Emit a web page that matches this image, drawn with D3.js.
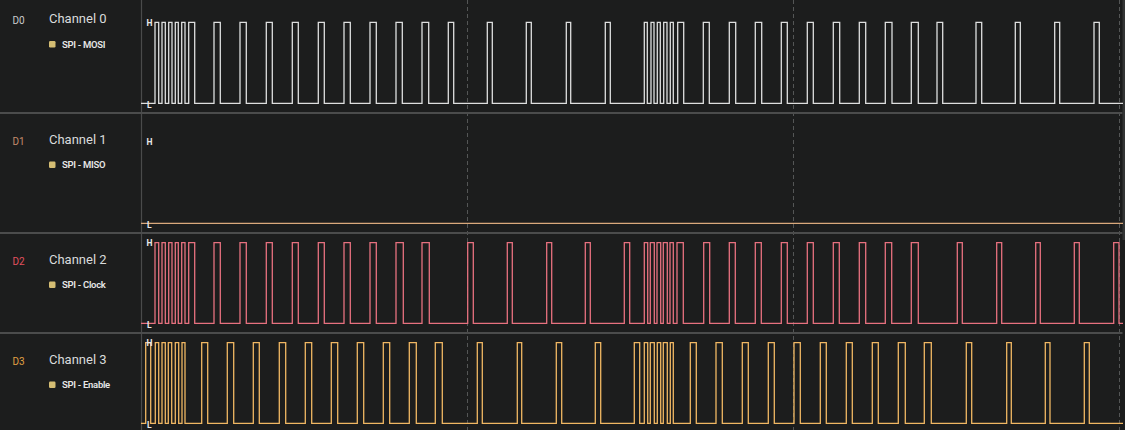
<!DOCTYPE html>
<html>
<head>
<meta charset="utf-8">
<script src="https://cdn.jsdelivr.net/npm/d3@7"></script>
<style>
  html, body { margin: 0; padding: 0; background: #1d1e1e; }
  svg { display: block; }
  text { font-family: Roboto, "Noto Sans", sans-serif; }
</style>
</head>
<body>
<svg id="chart" width="1125" height="430"></svg>
<script>
// channel names and analyzer labels
var probes = ["D0", "D1", "D2", "D3"];
var channels = ["Channel 0", "Channel 1", "Channel 2", "Channel 3"];
var analyzers = ["SPI - MOSI", "SPI - MISO", "SPI - Clock", "SPI - Enable"];

// pulses as [rise, fall] in sample time, one list per channel
var mosiPulses = [
    [14, 17.7], [21, 24.3], [27.7, 31], [34.3, 37.3], [40.7, 44], [47.7, 53.7],
    [73, 79.3], [99, 105.3], [125.3, 131.3], [151.3, 157.3], [177.3, 183.3], [203, 209.3],
    [229, 235.3], [255, 261.3], [281, 287.7], [307.3, 312.7], [346.3, 351.3], [385.3, 390.3],
    [425.3, 429.7], [464.3, 469.3],
    [503.3, 506.3], [510, 513], [516.3, 519.3], [522.7, 526], [529.3, 532.3], [536.7, 542.7],
    [562.3, 568.3], [588.3, 594.7], [614.3, 620.7], [640.3, 646.3], [666.3, 672.3], [692.3, 698.7],
    [718.3, 724.7], [744.3, 751], [770.3, 777.3], [796, 801.7], [835, 840.7], [874.3, 879.3],
    [913.7, 918.7], [953, 958.3]
];
var misoPulses = [];
var clockPulses = [
    [14, 17.7], [21, 24.3], [27.7, 31], [34.3, 37.3], [40.7, 44], [47.7, 53.7],
    [73, 79.3], [99, 105.3], [125.3, 131.3], [151.3, 157.3], [177.3, 183.3], [203, 209.3],
    [229, 235.3], [255, 262.3], [281, 288.3], [326.7, 332.3], [366.3, 371.3], [405.7, 410.7],
    [444.3, 449.3], [483.3, 488.7],
    [503.3, 506.7], [509.3, 513.3], [516, 519.7], [522.3, 526.3], [529, 532.3], [536, 542.3],
    [562.7, 568.7], [588.3, 594.3], [614.3, 620.3], [640.3, 646.3], [666.3, 672.3], [692.3, 698.3],
    [718.3, 724.7], [744.3, 750.7], [770.3, 777.3], [816.3, 821.3], [855.7, 860.7], [894.7, 899.3],
    [933.3, 938.3], [972.7, 978]
];
var enablePulses = [
    [4.7, 9.7], [14.3, 17.7], [21, 24.3], [27.3, 30.7], [34.3, 37.7], [41, 44],
    [60.7, 66.7], [86.3, 92.7], [112.3, 118.3], [138.3, 144.7], [164.3, 170.7], [190.3, 196.7],
    [216.3, 222.7], [242.3, 248.7], [268.3, 275.3], [294.3, 301.3], [336.3, 341.3], [376.3, 380.7],
    [415.3, 420.7], [454.3, 459.7],
    [493.3, 498.7], [503.3, 506.7], [509.3, 513.3], [516.3, 519.7], [522.3, 526.3], [529.3, 532.3],
    [549.3, 555.3], [575, 581.3], [601.3, 607.3], [627.3, 633.3], [653, 659.3], [679.3, 685.3],
    [705.3, 711.3], [731.3, 737.3], [757.3, 764.3], [783.3, 790.3], [825.3, 830.7], [865.7, 870.3],
    [904.3, 909], [943.3, 948.3]
];
var gridTimes = [0, 326, 652, 978];
var timeSpan = [0, 982];

var pulseSets = [mosiPulses, misoPulses, clockPulses, enablePulses];

// look
var probeColors = ["#c9cbcb", "#c58c6c", "#e2515f", "#e0a044"];
var traceColors = ["#dedfdf", "#d9a97c", "#e7717f", "#f0b763"];
var rowTops = [0, 113, 233, 333];
var rowHi = [22.3, 142, 242.7, 342.7];
var rowLo = [103.3, 223.3, 323.3, 423.3];
var labelY = [18.5, 139, 259, 359];

var W = 1125, H = 430, plotLeft = 141;

var svg = d3.select("#chart");
svg.append("rect").attr("width", W).attr("height", H).attr("fill", "#1c1d1d");

var x = d3.scaleLinear().domain([0, 984]).range([plotLeft, W]);

// grid lines
svg.selectAll(".grid").data(gridTimes.slice(1)).enter().append("line")
    .attr("class", "grid")
    .attr("x1", function (d) { return x(d) + 0.5; })
    .attr("x2", function (d) { return x(d) + 0.5; })
    .attr("y1", 0).attr("y2", H)
    .attr("stroke", "#545656")
    .attr("stroke-width", 1)
    .attr("stroke-dasharray", "4,3");

// panel separator
svg.append("line")
    .attr("x1", plotLeft + 0.5).attr("x2", plotLeft + 0.5)
    .attr("y1", 0).attr("y2", H)
    .attr("stroke", "#4a4b4b").attr("stroke-width", 1.2);

// row separators
svg.selectAll(".sep").data(rowTops.slice(1)).enter().append("line")
    .attr("class", "sep")
    .attr("x1", 0).attr("x2", W - 2.5)
    .attr("y1", function (d) { return d; })
    .attr("y2", function (d) { return d; })
    .attr("stroke", "#4b4c4c").attr("stroke-width", 2.2);

// scrollbar strip
svg.append("rect")
    .attr("x", W - 2.5).attr("y", 0).attr("width", 2.5).attr("height", 240)
    .attr("fill", "#333535");

function toSteps(pulses) {
    var pts = [[timeSpan[0], 0]];
    pulses.forEach(function (p) {
        pts.push([p[0], 1]);
        pts.push([p[1], 0]);
    });
    pts.push([timeSpan[1], 0]);
    return pts;
}

channels.forEach(function (name, i) {
    var g = svg.append("g");
    var y = d3.scaleLinear().domain([0, 1]).range([rowLo[i], rowHi[i]]);

    var line = d3.line()
        .x(function (d) { return x(d[0]); })
        .y(function (d) { return y(d[1]); })
        .curve(d3.curveStepAfter);

    g.append("path")
        .datum(toSteps(pulseSets[i]))
        .attr("d", line)
        .attr("fill", "none")
        .attr("stroke", traceColors[i])
        .attr("stroke-width", 1.3);

    // H / L markers
    g.append("text").text("H")
        .attr("x", 146.5).attr("y", y(1) + 3.3)
        .attr("font-size", 8.5).attr("font-weight", 700)
        .attr("fill", "#e8e8e8");
    g.append("text").text("L")
        .attr("x", 147).attr("y", y(0) + 4.3)
        .attr("font-size", 8.5).attr("font-weight", 700)
        .attr("fill", "#e8e8e8");

    // left labels
    g.append("text").text(probes[i])
        .attr("x", 12.5).attr("y", labelY[i] + 5.5)
        .attr("font-size", 10)
        .attr("fill", probeColors[i]);
    g.append("text").text(name)
        .attr("x", 49).attr("y", labelY[i] + 4.5)
        .attr("font-size", 13)
        .attr("fill", "#d9dbdb");
    g.append("rect")
        .attr("x", 49).attr("y", labelY[i] + 22.5)
        .attr("width", 6.5).attr("height", 6.5).attr("rx", 1.2)
        .attr("fill", "#d4bd73");
    g.append("text").text(analyzers[i])
        .attr("x", 62).attr("y", labelY[i] + 29.3)
        .attr("font-size", 9.5).attr("font-weight", 600)
        .attr("letter-spacing", -0.3)
        .attr("fill", "#e6e6e6");
});
</script>
</body>
</html>
